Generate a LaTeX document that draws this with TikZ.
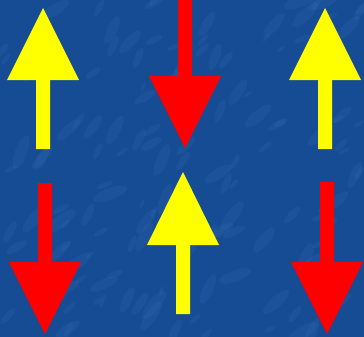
\documentclass[tikz,border=0pt]{standalone}
\usepackage{tikz}
\usetikzlibrary{calc}
\definecolor{bgblue}{RGB}{22,76,148}
\definecolor{bgfleck}{RGB}{75,130,195}
\definecolor{arrowyellow}{RGB}{255,255,0}
\definecolor{arrowred}{RGB}{255,0,0}

% block arrow: colour, centre x, tip y, head base y, tail y
\newcommand{\blockarrow}[5]{%
  \fill[#1] (#2-7,#5) -- (#2-7,#4) -- (#2-36,#4) -- (#2,#3)
    -- (#2+36,#4) -- (#2+7,#4) -- (#2+7,#5) -- cycle;}

\begin{document}
\begin{tikzpicture}[x=1pt, y=-1pt,
    fleck/.style={fill=bgfleck, opacity=0.12}
  ]

    % Background
    \fill[bgblue] (0,0) rectangle (364,337);
    \useasboundingbox (0,0) rectangle (364,337);

    % Mottled texture
    \pgfmathsetseed{11}
    \foreach \i in {1,...,140}{
      \pgfmathsetmacro{\fx}{random(0,364)}
      \pgfmathsetmacro{\fy}{random(0,337)}
      \pgfmathsetmacro{\fr}{random(5,18)}
      \pgfmathsetmacro{\fa}{random(20,70)}
      \fill[fleck, rotate around={\fa:(\fx,\fy)}] (\fx,\fy) ellipse ({\fr} and {\fr/3});
    }

    % Top row
    \blockarrow{arrowyellow}{43}{8}{80}{149}
    \blockarrow{arrowred}{185}{148}{76}{-1}
    \blockarrow{arrowyellow}{325}{8}{80}{149}

    % Bottom row
    \blockarrow{arrowred}{45}{334}{262}{183}
    \blockarrow{arrowyellow}{183}{172}{245}{314}
    \blockarrow{arrowred}{327}{334}{262}{182}

\end{tikzpicture}
\end{document}
